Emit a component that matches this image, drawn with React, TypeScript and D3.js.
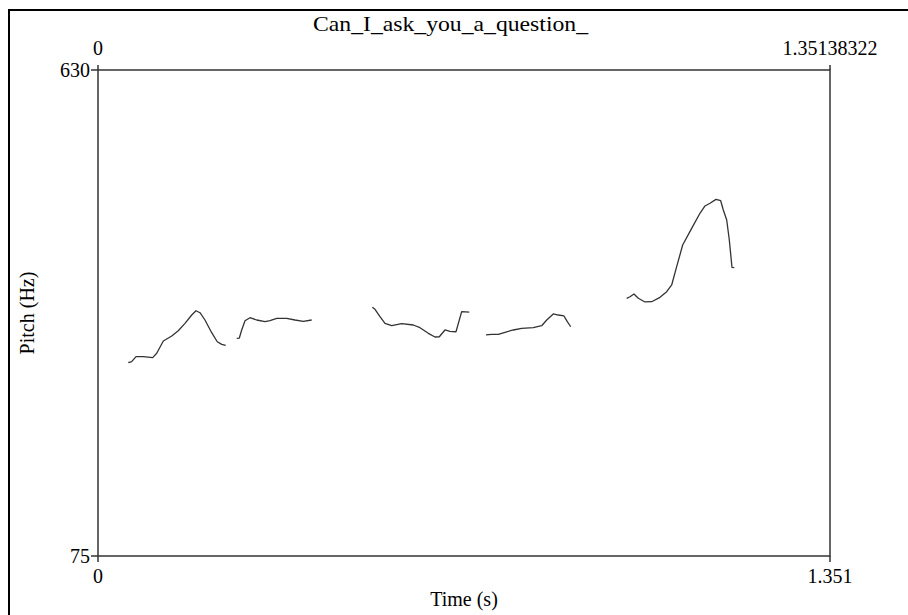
import React from "react";
import * as d3 from "d3";

// Pitch track for the utterance, in voiced stretches: [time (s), pitch (Hz)]
const title = "Can_I_ask_you_a_question_";
const timeRange = [0, 1.35138322];
const pitchRange = [75, 630];
const bottomTickLabels = ["0", "1.351"];
const topTickLabels = ["0", "1.35138322"];
const leftTickLabels = ["75", "630"];

const voiced1: [number, number][] = [
  [0.0559, 295.7], [0.0622, 296.9], [0.0702, 302.6], [0.0836, 302.6], [0.101, 301.5],
  [0.1084, 306.5], [0.1206, 320.5], [0.1361, 326.2], [0.1482, 332.3], [0.1606, 340.7],
  [0.173, 350.2], [0.1809, 355.1], [0.1883, 352.8], [0.1975, 344.5], [0.2099, 330.0],
  [0.2202, 319.7], [0.2284, 316.7], [0.2357, 315.6],
];
const voiced2: [number, number][] = [
  [0.2561, 323.6], [0.2609, 323.9], [0.2653, 333.1], [0.2714, 343.7], [0.2806, 347.1],
  [0.293, 344.5], [0.3083, 342.6], [0.3175, 343.7], [0.3299, 346.4], [0.3484, 346.4],
  [0.3637, 344.5], [0.379, 343.0], [0.3945, 344.5],
];
const voiced3: [number, number][] = [
  [0.5064, 359.0], [0.5114, 356.7], [0.5206, 348.3], [0.5298, 340.7], [0.5422, 338.0],
  [0.5607, 340.3], [0.5821, 338.8], [0.5944, 335.7], [0.6098, 329.3], [0.6221, 325.1],
  [0.6301, 325.4], [0.6406, 333.1], [0.6498, 331.6], [0.6609, 331.1], [0.6714, 354.0],
  [0.6855, 353.6],
];
const voiced4: [number, number][] = [
  [0.7163, 327.4], [0.7268, 328.2], [0.739, 328.2], [0.7514, 330.5], [0.7667, 333.1],
  [0.7822, 335.0], [0.8036, 335.7], [0.8191, 338.0], [0.8284, 344.5], [0.8405, 351.4],
  [0.8498, 350.2], [0.8603, 349.1], [0.8664, 342.6], [0.8727, 336.8],
];
const voiced5: [number, number][] = [
  [0.976, 369.3], [0.9821, 371.1], [0.9895, 374.2], [0.9975, 369.3], [1.0098, 365.1],
  [1.0222, 365.4], [1.0375, 370.4], [1.0499, 376.8], [1.0591, 384.5], [1.0683, 405.4],
  [1.0794, 430.1], [1.096, 449.2], [1.1113, 466.4], [1.1206, 474.7], [1.1298, 477.8],
  [1.1409, 482.3], [1.1496, 480.7], [1.1544, 470.1], [1.1607, 458.7], [1.1655, 435.9],
  [1.1704, 404.7], [1.1747, 404.2],
];
const segments = [voiced1, voiced2, voiced3, voiced4, voiced5];

const W = 908;
const H = 615;
const frame = { left: 98, top: 70, right: 830, bottom: 556 };
const font = "'Liberation Serif', 'Times New Roman', serif";
const fs = 20;
const ink = "#333";

export default function App() {
  const x = d3.scaleLinear().domain(timeRange).range([frame.left, frame.right]);
  const y = d3.scaleLinear().domain(pitchRange).range([frame.bottom, frame.top]);
  const line = d3
    .line<[number, number]>()
    .x((d) => x(d[0]))
    .y((d) => y(d[1]));

  const tMin = timeRange[0];
  const tMax = timeRange[1];

  return (
    <svg
      width={W}
      height={H}
      style={{ position: "absolute", left: 0, top: 0, display: "block", background: "#fff" }}
    >
      <rect x={0} y={0} width={W} height={H} fill="#fff" />
      {/* outer border */}
      <rect x={9} y={10} width={W + 20} height={H + 20} fill="none" stroke="#000" strokeWidth={2} />

      {/* title */}
      <text
        x={313}
        y={31}
        textLength={275}
        lengthAdjust="spacingAndGlyphs"
        fontFamily={font}
        fontSize={21}
      >
        {title}
      </text>

      {/* plot frame */}
      <rect
        x={frame.left}
        y={frame.top}
        width={frame.right - frame.left}
        height={frame.bottom - frame.top}
        fill="none"
        stroke={ink}
        strokeWidth={1.5}
      />

      {/* top ticks and labels */}
      {[tMin, tMax].map((t, i) => (
        <g key={"tt" + i}>
          <line x1={x(t)} x2={x(t)} y1={frame.top - 5} y2={frame.top} stroke={ink} strokeWidth={1.5} />
          <text x={x(t)} y={55} textAnchor="middle" fontFamily={font} fontSize={fs}>
            {topTickLabels[i]}
          </text>
        </g>
      ))}

      {/* bottom ticks and labels */}
      {[tMin, tMax].map((t, i) => (
        <g key={"bt" + i}>
          <line x1={x(t)} x2={x(t)} y1={frame.bottom} y2={frame.bottom + 6} stroke={ink} strokeWidth={1.5} />
          <text x={x(t)} y={583} textAnchor="middle" fontFamily={font} fontSize={fs}>
            {bottomTickLabels[i]}
          </text>
        </g>
      ))}

      {/* left ticks and labels */}
      {pitchRange.map((p, i) => (
        <g key={"lt" + i}>
          <line x1={frame.left - 7} x2={frame.left} y1={y(p)} y2={y(p)} stroke={ink} strokeWidth={1.5} />
          <text
            x={frame.left - 8}
            y={y(p)}
            dy="0.34em"
            textAnchor="end"
            fontFamily={font}
            fontSize={fs}
          >
            {leftTickLabels[i]}
          </text>
        </g>
      ))}

      {/* axis titles */}
      <text x={464} y={606} textAnchor="middle" fontFamily={font} fontSize={fs}>
        Time (s)
      </text>
      <text
        transform={`translate(34, ${(frame.top + frame.bottom) / 2}) rotate(-90)`}
        textAnchor="middle"
        fontFamily={font}
        fontSize={fs}
      >
        Pitch (Hz)
      </text>

      {/* pitch contour */}
      <g fill="none" stroke={ink} strokeWidth={1.3} strokeLinejoin="round">
        {segments.map((s, i) => (
          <path key={i} d={line(s) || ""} />
        ))}
      </g>
    </svg>
  );
}
